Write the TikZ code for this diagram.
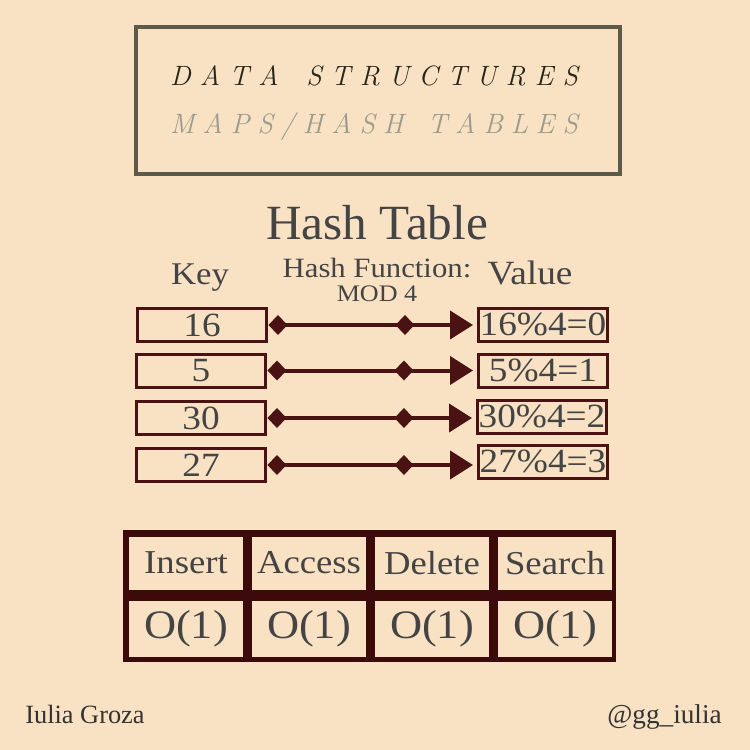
\documentclass[tikz,border=0pt]{standalone}
\usepackage{fontspec}
\newfontfamily\bodyfont[FakeStretch=1.1]{Liberation Serif}
\newfontfamily\plainfont{Liberation Serif}
\usetikzlibrary{arrows.meta,decorations.markings}

\definecolor{peach}{HTML}{F9E1C3}
\definecolor{framegray}{HTML}{5C5B4A}
\definecolor{maroon}{HTML}{4A1212}
\definecolor{darkmaroon}{HTML}{3C0A0A}
\definecolor{ink}{HTML}{444444}
\definecolor{titleink}{HTML}{26261C}
\definecolor{subink}{HTML}{9C9B8C}

\begin{document}
\begin{tikzpicture}[x=0.02cm, y=-0.02cm,
    txt/.style={anchor=base, inner sep=0pt, text=ink},
    spaced/.style={anchor=base, inner sep=0pt,
      font=\fontsize{15.9}{15.9}\selectfont\itshape},
    keybox/.style={draw=maroon, line width=0.06cm, minimum width=2.6cm,
      minimum height=0.66cm, inner sep=0pt, text=ink,
      font=\bodyfont\fontsize{19.3}{19.3}\selectfont},
    valbox/.style={keybox, minimum width=2.58cm},
    hasharrow/.style={maroon, line width=0.08cm, shorten >=0.08cm,
      {Diamond[length=0.38cm,width=0.4cm]}-{Triangle[length=0.46cm,width=0.56cm]},
      decoration={markings, mark=at position 2.92cm with
        {\arrow{Diamond[length=0.38cm,width=0.4cm]}}},
      postaction={decorate}},
    opcell/.style={fill=peach, inner sep=0pt, text=ink, minimum width=2.3cm},
  ]
  % Background
  \fill[peach] (0,0) rectangle (750,750);
  \useasboundingbox (0,0) rectangle (750,750);

  % Title frame
  \node[draw=framegray, line width=0.08cm, minimum width=9.7cm,
    minimum height=2.94cm] (titlebox) at (378,100.5) {};
  \node[spaced, text=titleink] (title) at (374,86)
    {\makebox[8.16cm][s]{D\hfill A\hfill T\hfill A\hfill\hfill\hfill S\hfill T\hfill R\hfill
      U\hfill C\hfill T\hfill U\hfill R\hfill E\hfill S}};
  \node[spaced, text=subink] (subtitle) at (374,133)
    {\makebox[8.16cm][s]{M\hfill A\hfill P\hfill S\hfill /\hfill H\hfill A\hfill S\hfill
      H\hfill\hfill\hfill T\hfill A\hfill B\hfill L\hfill E\hfill S}};

  % Headings
  \node[txt, font=\plainfont\fontsize{28}{28}\selectfont] (heading) at (377,239) {Hash Table};
  \node[txt, font=\bodyfont\fontsize{18}{18}\selectfont] (keyhead) at (200,284) {Key};
  \node[txt, anchor=north, align=center, font=\bodyfont\fontsize{15.9}{13.6}\selectfont]
    (hashhead) at (377,258) {Hash Function:\\{\fontsize{13.5}{13.6}\selectfont MOD 4}};
  \node[txt, font=\bodyfont\fontsize{19.3}{19.3}\selectfont] (valhead) at (530,284) {Value};

  % Keys and values
  \node[keybox] (k1) at (202,325) {16};
  \node[keybox] (k2) at (201,370.5) {5};
  \node[keybox] (k3) at (201,418) {30};
  \node[keybox] (k4) at (201,465) {27};

  \node[valbox] (v1) at (543,324.5) {16\%4=0};
  \node[valbox] (v2) at (543,370.5) {5\%4=1};
  \node[valbox] (v3) at (542,416.5) {30\%4=2};
  \node[valbox] (v4) at (543,461.5) {27\%4=3};

  % Hash function arrows
  \foreach \i in {1,...,4}{
    \draw[hasharrow] (k\i.east) -- (k\i.east -| v\i.west);
  }

  % Operations table
  \fill[darkmaroon] (123,530) rectangle (616,662);
  \foreach \op [count=\i] in {Insert,Access,Delete,Search}{
    \node[opcell, minimum height=1.06cm, font=\bodyfont\fontsize{19}{19}\selectfont]
      (op\i) at (63+123*\i,563) {\op};
    \node[opcell, minimum height=1.12cm, font=\bodyfont\fontsize{23}{23}\selectfont]
      (cost\i) at (63+123*\i,629) {O(1)};
  }

  % Footer
  \node[txt, anchor=base west, text=black!80, font=\plainfont\fontsize{15}{15}\selectfont]
    (author) at (25,723) {Iulia Groza};
  \node[txt, anchor=base east, text=black!80, font=\plainfont\fontsize{15.5}{15.5}\selectfont]
    (handle) at (722,723) {@gg\_iulia};
\end{tikzpicture}
\end{document}
